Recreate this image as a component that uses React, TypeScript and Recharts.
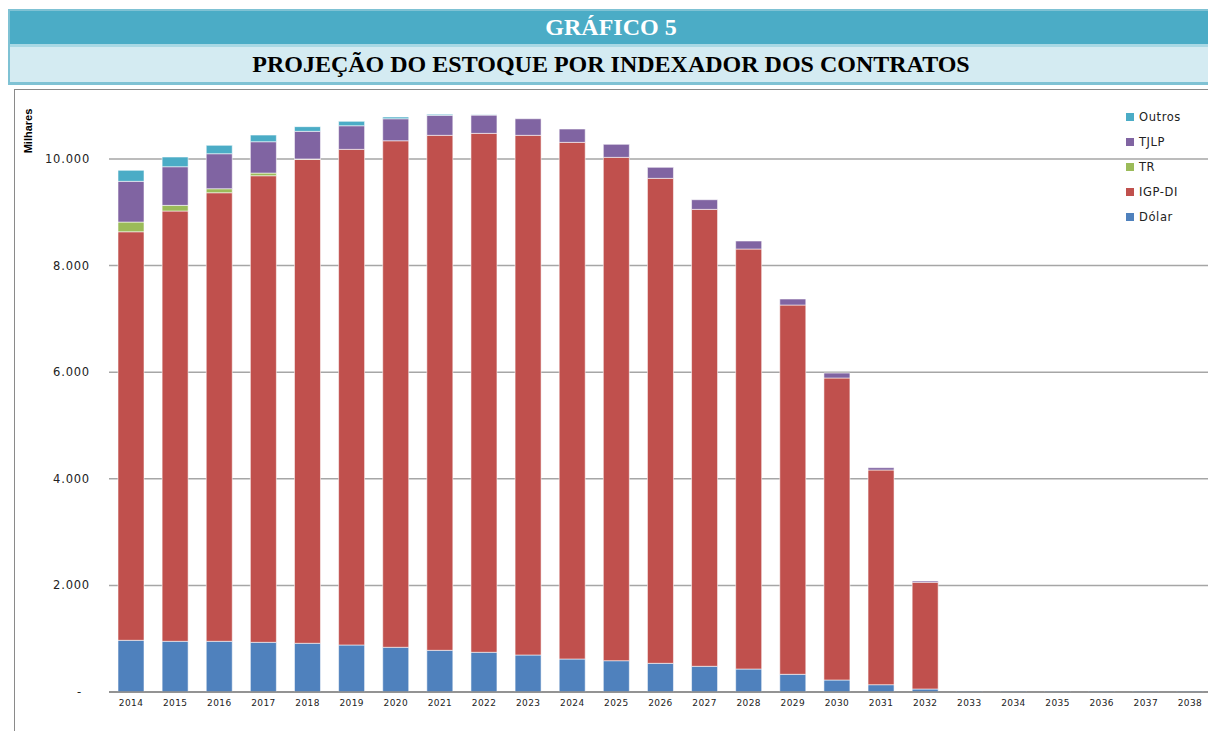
import React from 'react';
import { BarChart, Bar, XAxis, YAxis, CartesianGrid, Legend } from 'recharts';

const years = ['2014','2015','2016','2017','2018','2019','2020','2021','2022','2023','2024','2025','2026','2027','2028','2029','2030','2031','2032','2033','2034','2035','2036','2037','2038'];
const dolar = [970, 951, 951, 932, 914, 882, 839, 782, 745, 694, 619, 587, 538, 482, 431, 332, 225, 137, 56, 18, 18, 18, 18, 18, 18];
const igpdi = [7665, 8073, 8416, 8754, 9079, 9299, 9503, 9662, 9736, 9750, 9693, 9444, 9099, 8573, 7880, 6928, 5666, 4028, 2002, 0, 0, 0, 0, 0, 0];
const tr = [182, 106, 75, 50, 8, 0, 0, 0, 0, 0, 0, 0, 0, 0, 0, 0, 0, 0, 0, 0, 0, 0, 0, 0, 0];
const tjlp = [764, 725, 657, 588, 518, 443, 413, 375, 344, 311, 250, 244, 206, 181, 150, 113, 93, 43, 24, 0, 0, 0, 0, 0, 0];
const outros = [206, 182, 157, 125, 88, 82, 32, 19, 4, 0, 0, 0, 0, 0, 0, 0, 0, 0, 0, 0, 0, 0, 0, 0, 0];
const yTicks = [0, 2000, 4000, 6000, 8000, 10000];

const seriesNames = ['Dólar', 'IGP-DI', 'TR', 'TJLP', 'Outros'];
const seriesKeys = ['dolar', 'igpdi', 'tr', 'tjlp', 'outros'];
const seriesColors = ['#4F81BD', '#C0504D', '#9BBB59', '#8064A2', '#4BACC6'];
const legendOrder = ['Outros', 'TJLP', 'TR', 'IGP-DI', 'Dólar'];

const data = years.map((y, i) => ({
  year: y,
  dolar: dolar[i],
  igpdi: igpdi[i],
  tr: tr[i],
  tjlp: tjlp[i],
  outros: outros[i],
}));

const fmt = (v: number) => String(v).replace(/\B(?=(\d{3})+(?!\d))/g, '.');

const YTick = (props: any) => {
  const { y, payload } = props;
  const v = payload.value;
  if (v === 0) {
    return (
      <text x={65} y={y} dy="0.35em" textAnchor="middle" fontSize={11.5} fontFamily="DejaVu Sans" fill="#222">-</text>
    );
  }
  return (
    <text x={76} y={y} dy="0.35em" textAnchor="end" fontSize={11.5} letterSpacing={0.8} fontFamily="DejaVu Sans" fill="#222">
      {fmt(v)}
    </text>
  );
};

const LegendContent = (props: any) => {
  const payload = (props.payload || [])
    .slice()
    .sort((a: any, b: any) => legendOrder.indexOf(a.value) - legendOrder.indexOf(b.value));
  return (
    <div style={{ fontFamily: 'DejaVu Sans', fontSize: 11.5, letterSpacing: 0.6, color: '#222' }}>
      {payload.map((p: any) => (
        <div key={p.value} style={{ height: 24.8, display: 'flex', alignItems: 'center' }}>
          <span style={{ display: 'inline-block', width: 8, height: 8, background: p.color, marginRight: 5 }} />
          <span>{p.value}</span>
        </div>
      ))}
    </div>
  );
};

export default function App() {
  return (
    <div style={{ position: 'relative', width: 1206, height: 723 }}>
      <style>{`body{overflow:hidden}`}</style>
      <div
        style={{
          position: 'absolute', left: 0, top: 1, width: 1206,
          borderLeft: '2px solid #7fc2d4', borderRight: '2px solid #7fc2d4',
          borderTop: '2px solid #7fc2d4', borderBottom: '3px solid #7fc2d4',
          boxSizing: 'border-box', background: '#a9d8e4',
        }}
      >
        <div style={{
          height: 33, background: '#4BACC6', color: '#fff', fontFamily: 'Liberation Serif',
          fontWeight: 'bold', fontSize: 24, display: 'flex', alignItems: 'center', justifyContent: 'center',
        }}>GRÁFICO 5</div>
        <div style={{ height: 3 }} />
        <div style={{
          height: 35, background: '#D4EBF2', color: '#000', fontFamily: 'Liberation Serif',
          fontWeight: 'bold', fontSize: 24, display: 'flex', alignItems: 'center', justifyContent: 'center',
        }}>PROJEÇÃO DO ESTOQUE POR INDEXADOR DOS CONTRATOS</div>
      </div>
      <div style={{
        position: 'absolute', left: 6, top: 81, width: 1198, height: 660,
        borderLeft: '1px solid #8a8a8a', borderTop: '1px solid #8a8a8a', borderRight: '1px solid #8a8a8a',
        boxSizing: 'border-box',
      }} />
      <div style={{ position: 'absolute', left: 6, top: 81, width: 1198, height: 642 }}>
        <div style={{
          position: 'absolute', left: 14, top: 42, transform: 'translate(-50%, -50%) rotate(-90deg)',
          fontFamily: 'Liberation Sans', fontWeight: 'bold', fontSize: 11, whiteSpace: 'nowrap', color: '#000',
        }}>Milhares</div>
        <BarChart width={1198} height={642} data={data} margin={{ top: 16.7, right: 0, bottom: 0, left: 0 }}>
          <CartesianGrid
            vertical={false}
            stroke="#a6a6a6"
            strokeWidth={1.5}
            horizontalValues={yTicks}
          />
          <XAxis
            dataKey="year"
            interval={0}
            tickLine={false}
            axisLine={{ stroke: '#868686', strokeWidth: 1.5 }}
            height={39}
            tick={{ fontSize: 9, fill: '#222', fontFamily: 'DejaVu Sans', letterSpacing: 0.4 }}
          />
          <YAxis
            width={95}
            domain={[0, 11000]}
            ticks={yTicks}
            allowDataOverflow
            axisLine={false}
            tickLine={false}
            tick={<YTick />}
          />
          <Legend
            layout="vertical"
            align="center"
            verticalAlign="middle"
            content={<LegendContent />}
            wrapperStyle={{ position: 'absolute', top: 16, left: 1112, width: 90, height: 130 }}
          />
          {seriesKeys.map((k, i) => (
            <Bar
              key={k}
              dataKey={k}
              name={seriesNames[i]}
              stackId="a"
              fill={seriesColors[i]}
              stroke="rgba(255,255,255,0.55)"
              strokeWidth={1}
              barSize={26}
              isAnimationActive={false}
            />
          ))}
        </BarChart>
      </div>
    </div>
  );
}
